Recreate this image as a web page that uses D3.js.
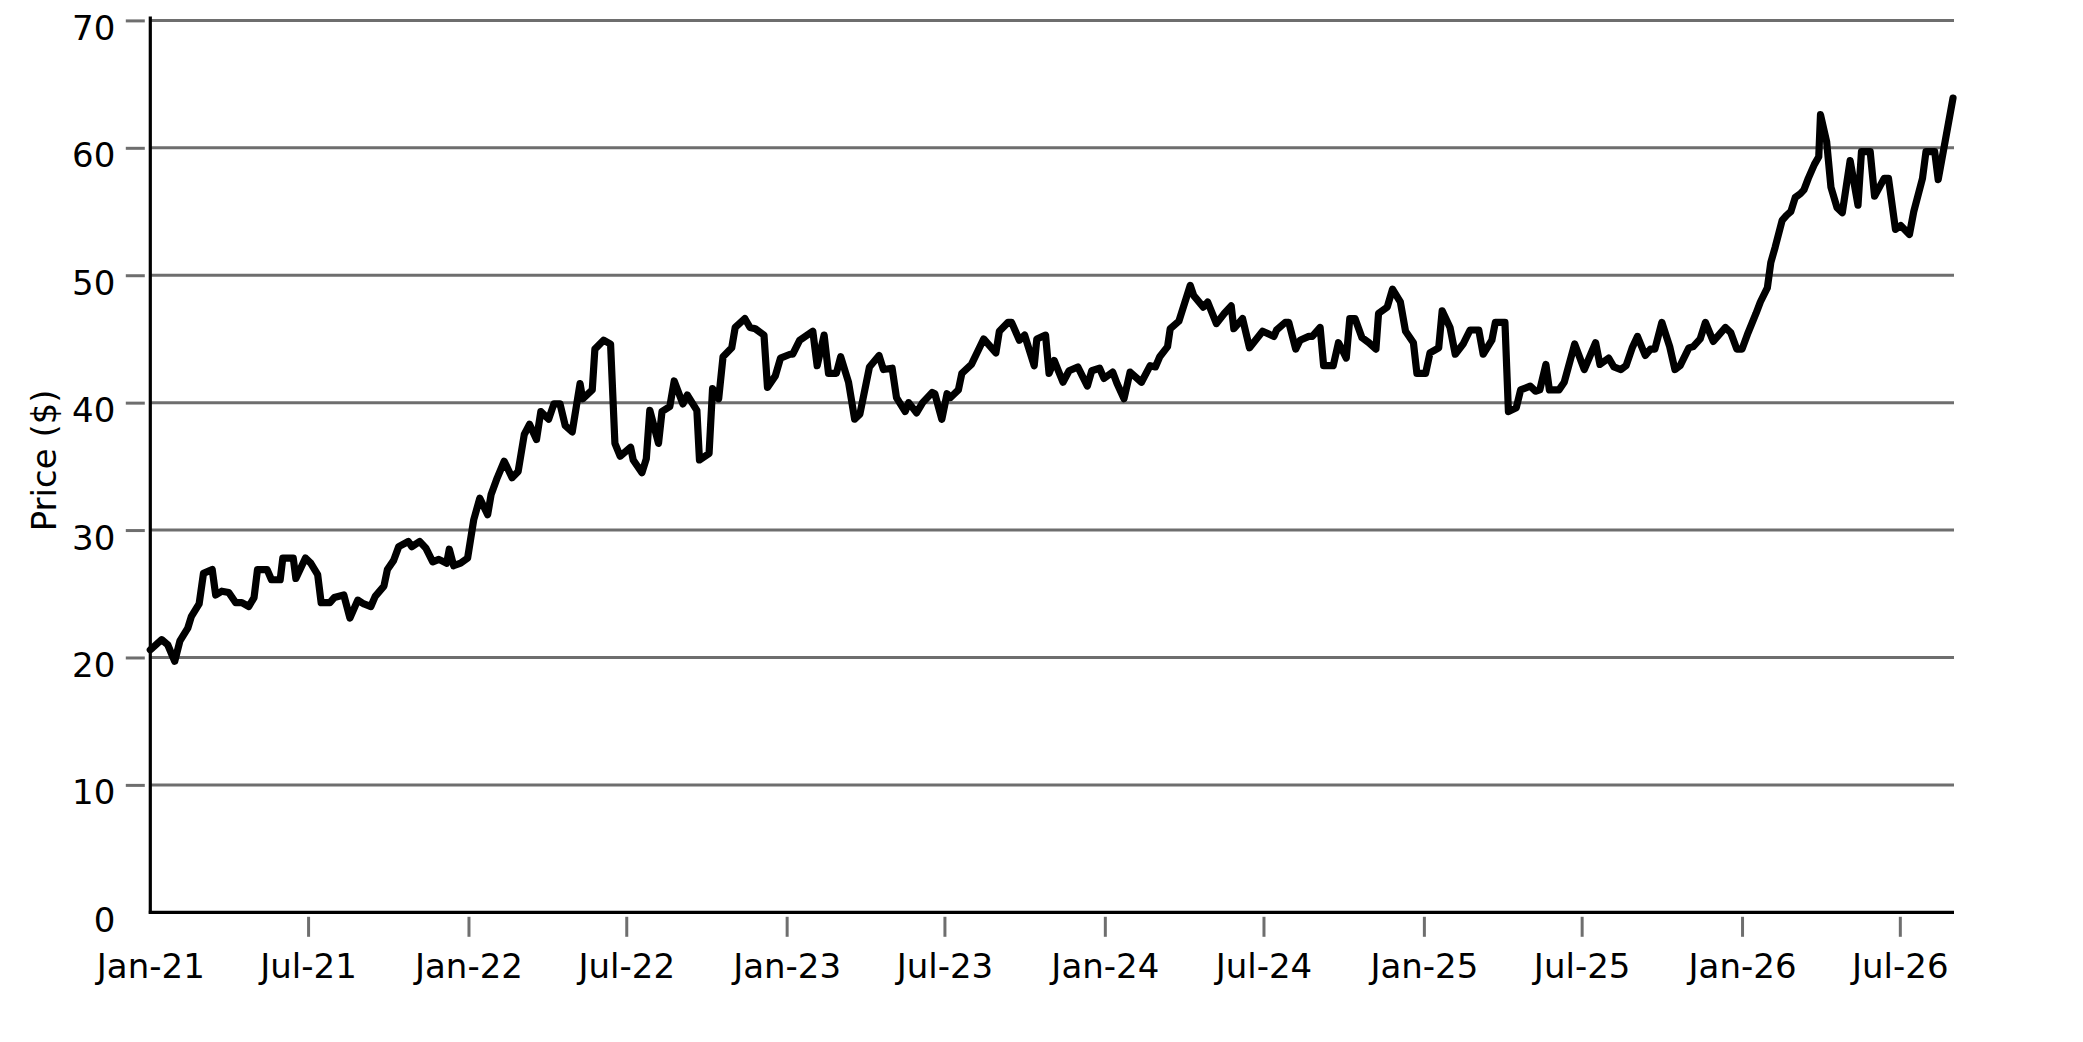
<!DOCTYPE html>
<html>
<head>
<meta charset="utf-8">
<script src="https://cdn.jsdelivr.net/npm/d3@7"></script>
<style>
  html, body { margin: 0; padding: 0; background: #fff; }
  svg { display: block; }
  text { font-family: "DejaVu Sans", sans-serif; fill: #000; }
</style>
</head>
<body>
<svg id="chart" width="2083" height="1042"></svg>
<script>
// ---- data ----
const startDate = "2021-01-01";
// day offsets from startDate
const dayOffsets = [
  0, 13, 20, 28, 34, 43, 47, 56, 61, 71, 75, 82, 90, 98, 105, 113, 119, 123, 134, 139,
  149, 152, 164, 167, 178, 184, 192, 196, 206, 211, 222, 229, 238, 245, 253, 258, 268, 272, 279, 285,
  296, 300, 309, 316, 324, 331, 340, 343, 348, 356, 364, 371, 378, 387, 391, 398, 406, 415, 422, 429,
  435, 443, 448, 457, 463, 470, 476, 484, 493, 496, 507, 510, 520, 528, 533, 539, 551, 554, 564, 569,
  573, 583, 587, 596, 601, 611, 616, 627, 630, 641, 645, 652, 657, 667, 671, 682, 688, 694, 704, 708,
  717, 723, 734, 737, 745, 760, 765, 773, 778, 787, 792, 801, 808, 814, 825, 836, 841, 851, 856, 866,
  870, 879, 886, 897, 900, 908, 914, 918, 927, 931, 942, 956, 970, 974, 984, 988, 997, 1003, 1014, 1017,
  1027, 1031, 1037, 1047, 1054, 1064, 1075, 1080, 1089, 1094, 1104, 1109, 1117, 1124, 1137, 1147, 1153, 1158, 1167, 1170,
  1180, 1193, 1197, 1208, 1213, 1223, 1232, 1240, 1243, 1253, 1261, 1276, 1289, 1292, 1302, 1306, 1314, 1319, 1329, 1333,
  1342, 1346, 1357, 1363, 1367, 1372, 1376, 1382, 1390, 1398, 1406, 1409, 1419, 1425, 1434, 1440, 1449, 1453, 1463, 1468,
  1478, 1482, 1491, 1497, 1506, 1514, 1524, 1529, 1539, 1543, 1554, 1558, 1567, 1572, 1583, 1589, 1594, 1601, 1605, 1616,
  1622, 1634, 1645, 1658, 1663, 1673, 1679, 1687, 1693, 1700, 1706, 1715, 1721, 1726, 1734, 1743, 1749, 1755, 1765, 1770,
  1778, 1784, 1793, 1807, 1813, 1820, 1826, 1833, 1842, 1847, 1855, 1859, 1864, 1872, 1877, 1882, 1887, 1893, 1897, 1902,
  1909, 1914, 1916, 1923, 1928, 1935, 1941, 1950, 1959, 1963, 1973, 1978, 1989, 1994, 2002, 2008, 2018, 2023, 2033, 2037,
  2047, 2051, 2068
];
const prices = [
  20.6, 21.4, 21.0, 19.7, 21.3, 22.3, 23.2, 24.2, 26.6, 26.9, 24.9, 25.2, 25.1, 24.3, 24.3, 24.0, 24.7, 26.9, 26.9, 26.1,
  26.1, 27.8, 27.8, 26.2, 27.8, 27.4, 26.5, 24.3, 24.3, 24.7, 24.9, 23.1, 24.5, 24.2, 24.0, 24.8, 25.6, 26.9, 27.6, 28.7,
  29.1, 28.7, 29.1, 28.6, 27.5, 27.7, 27.4, 28.5, 27.2, 27.4, 27.8, 30.8, 32.5, 31.2, 32.8, 34.1, 35.4, 34.1, 34.6, 37.5,
  38.3, 37.1, 39.3, 38.7, 39.9, 39.9, 38.2, 37.7, 41.5, 40.3, 41.0, 44.2, 44.9, 44.6, 36.8, 35.8, 36.5, 35.5, 34.5, 35.6,
  39.4, 36.8, 39.3, 39.7, 41.7, 39.9, 40.6, 39.4, 35.5, 36.0, 41.1, 40.3, 43.6, 44.3, 45.9, 46.6, 45.9, 45.8, 45.3, 41.2,
  42.1, 43.5, 43.8, 43.8, 44.9, 45.6, 42.9, 45.3, 42.3, 42.3, 43.6, 41.6, 38.7, 39.1, 42.8, 43.7, 42.6, 42.7, 40.4, 39.3,
  40.0, 39.2, 40.0, 40.8, 40.7, 38.7, 40.7, 40.4, 41.0, 42.3, 43.0, 45.0, 43.9, 45.6, 46.3, 46.3, 44.9, 45.3, 42.9, 45.0,
  45.3, 42.3, 43.3, 41.6, 42.5, 42.8, 41.3, 42.5, 42.7, 41.9, 42.4, 41.5, 40.3, 42.4, 41.6, 42.9, 42.8, 43.6, 44.4, 45.8,
  46.4, 49.2, 48.4, 47.5, 47.9, 46.2, 47.0, 47.6, 45.8, 46.6, 44.3, 45.6, 45.2, 45.7, 46.3, 46.3, 44.2, 44.9, 45.2, 45.2,
  45.9, 42.9, 42.9, 44.7, 44.2, 43.5, 46.6, 46.6, 45.1, 44.7, 44.2, 47.0, 47.5, 48.9, 47.9, 45.6, 44.7, 42.3, 42.3, 43.9,
  44.3, 47.2, 45.9, 43.8, 44.6, 45.7, 45.7, 43.8, 44.9, 46.3, 46.3, 39.3, 39.6, 41.0, 41.3, 40.9, 41.0, 43.0, 41.0, 41.0,
  41.6, 44.6, 42.6, 44.7, 43.0, 43.5, 42.8, 42.6, 42.9, 44.3, 45.2, 43.7, 44.2, 44.2, 46.3, 44.4, 42.6, 42.9, 44.3, 44.4,
  45.0, 46.3, 44.8, 45.9, 45.5, 44.2, 44.2, 45.5, 47.0, 47.9, 49.0, 51.0, 52.2, 54.3, 54.7, 55.0, 56.1, 56.4, 56.7, 57.6,
  58.7, 59.3, 62.6, 60.5, 56.9, 55.3, 54.9, 59.0, 55.5, 59.7, 59.7, 56.2, 57.6, 57.6, 53.6, 53.9, 53.2, 55.0, 57.6, 59.7,
  59.7, 57.5, 63.9
];
const yTickValues = [0, 10, 20, 30, 40, 50, 60, 70];
const yAxisTitle = "Price ($)";
const xTickFormat = "%b-%y";

// ---- chart ----
(function () {
  const svg = d3.select("#chart");
  const start = new Date(startDate + "T00:00:00Z");
  const data = dayOffsets.map((d, i) => ({ date: d3.utcDay.offset(start, d), value: prices[i] }));

  const pL = 150.3, pR = 1953, pT = 20.4, pB = 912.3;
  const x = d3.scaleUtc().domain([data[0].date, data[data.length - 1].date]).range([pL, pR]);
  const y = d3.scaleLinear().domain([0, 70]).range([pB, pT]);

  const gridColor = "#6e6e6e";
  const fs = 34;

  // gridlines
  svg.append("g").selectAll("line")
    .data(yTickValues.filter(v => v > 0))
    .join("line")
    .attr("x1", pL).attr("x2", pR + 1)
    .attr("y1", d => y(d)).attr("y2", d => y(d))
    .attr("stroke", gridColor).attr("stroke-width", 3);

  // y axis ticks and labels
  const yAxis = d3.axisLeft(y).tickValues(yTickValues).tickSize(0).tickPadding(0);
  const gy = svg.append("g").attr("transform", `translate(${pL},0)`).call(yAxis);
  gy.select(".domain").remove();
  gy.selectAll(".tick line").remove();
  gy.selectAll(".tick").filter(d => d > 0).append("line")
    .attr("x1", -24.5).attr("x2", -5.5)
    .attr("stroke", gridColor).attr("stroke-width", 3);
  gy.selectAll(".tick text")
    .attr("x", -35).attr("dy", null).attr("y", 19)
    .attr("text-anchor", "end")
    .style("font-family", "'DejaVu Sans', sans-serif")
    .style("font-size", fs + "px").attr("fill", "#000");

  // x axis ticks and labels
  const xTicks = d3.utcMonth.every(6).range(data[0].date, d3.utcDay.offset(data[data.length - 1].date, 1));
  const xAxis = d3.axisBottom(x).tickValues(xTicks).tickFormat(d3.utcFormat(xTickFormat)).tickSize(0).tickPadding(0);
  const gx = svg.append("g").attr("transform", `translate(0,${pB})`).call(xAxis);
  gx.select(".domain").remove();
  gx.selectAll(".tick line").remove();
  gx.selectAll(".tick").filter((d, i) => i > 0).append("line")
    .attr("y1", 4.5).attr("y2", 24.5)
    .attr("stroke", gridColor).attr("stroke-width", 3);
  gx.selectAll(".tick text")
    .attr("y", 66).attr("dy", null)
    .style("font-family", "'DejaVu Sans', sans-serif")
    .style("font-size", fs + "px").attr("fill", "#000");

  // axis lines
  svg.append("line").attr("x1", pL).attr("x2", pL).attr("y1", 16.5).attr("y2", pB + 1.5)
    .attr("stroke", "#000").attr("stroke-width", 3.2);
  svg.append("line").attr("x1", pL - 1.5).attr("x2", pR + 1).attr("y1", pB).attr("y2", pB)
    .attr("stroke", "#000").attr("stroke-width", 3.2);

  // y axis title
  svg.append("text")
    .attr("transform", `translate(56,${(pT + pB) / 2 - 6}) rotate(-90)`)
    .attr("text-anchor", "middle")
    .style("font-size", "34px")
    .text(yAxisTitle);

  // price line
  const line = d3.line().x(d => x(d.date)).y(d => y(d.value));
  svg.append("path").datum(data)
    .attr("d", line)
    .attr("fill", "none")
    .attr("stroke", "#000")
    .attr("stroke-width", 7.2)
    .attr("stroke-linejoin", "round")
    .attr("stroke-linecap", "round");
})();
</script>
</body>
</html>
